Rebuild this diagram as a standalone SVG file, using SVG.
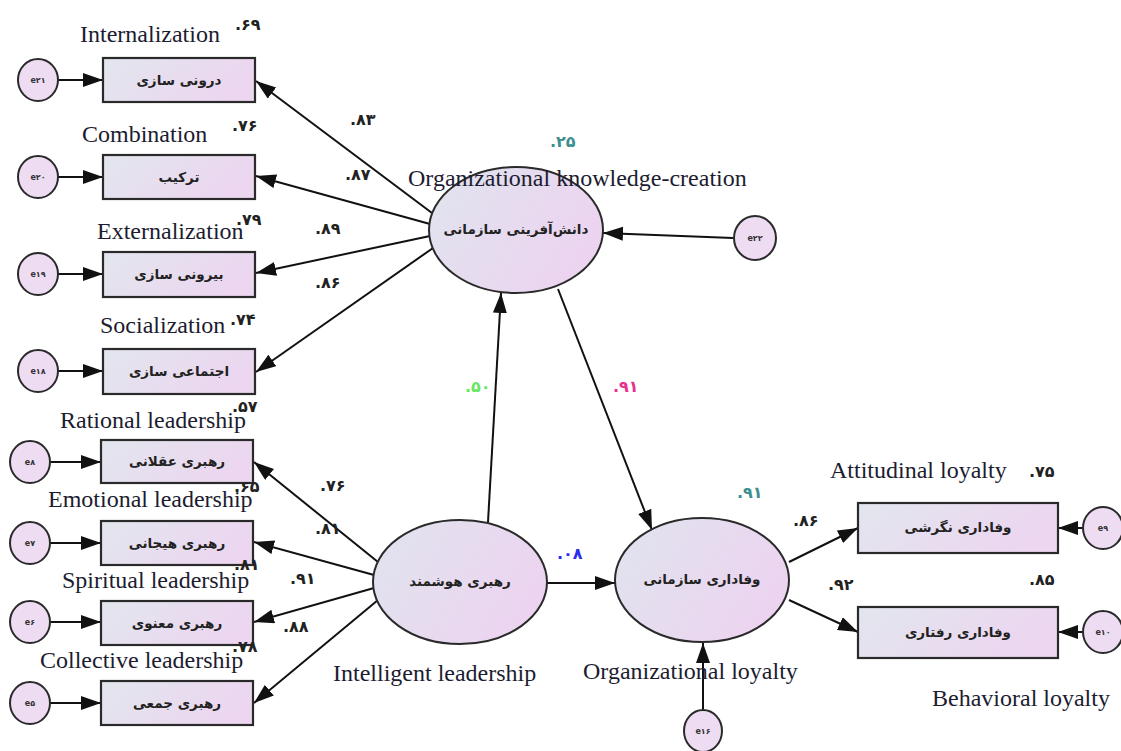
<svg xmlns="http://www.w3.org/2000/svg" width="1121" height="751" viewBox="0 0 1121 751">
<defs>
<linearGradient id="gbox" x1="0" y1="0" x2="1" y2="0.3">
<stop offset="0" stop-color="#e2e6ee"/>
<stop offset="1" stop-color="#ecd6f0"/>
</linearGradient>
<linearGradient id="gell" x1="0" y1="0" x2="1" y2="0.4">
<stop offset="0" stop-color="#e0e4ee"/>
<stop offset="1" stop-color="#ecd4f0"/>
</linearGradient>
<marker id="arr" markerUnits="userSpaceOnUse" markerWidth="22" markerHeight="16" refX="20" refY="7" orient="auto">
<path d="M0,0 L20,7 L0,14 z" fill="#111"/>
</marker>
<style>
.box{fill:url(#gbox);stroke:#2a2a2a;stroke-width:2.2}
.ell{fill:url(#gell);stroke:#2a2a2a;stroke-width:2}
.err{fill:#eddcf2;stroke:#2a2a2a;stroke-width:2}
.fa{font-family:"DejaVu Sans",sans-serif;font-weight:bold;font-size:13.5px;fill:#222;text-anchor:middle}
.et{font-family:"DejaVu Sans",sans-serif;font-weight:bold;font-size:8px;fill:#333;text-anchor:middle}
.en{font-family:"Liberation Serif",serif;font-size:24px;fill:#1c1c30}
.num{font-family:"DejaVu Sans",sans-serif;font-weight:bold;font-size:16px;fill:#222}
.cn{stroke:#111;stroke-width:2;fill:none;marker-end:url(#arr)}
</style>
</defs>
<rect width="1121" height="751" fill="#fff"/>
<g id="connectors">
<line class="cn" x1="58" y1="80" x2="103" y2="80"/>
<line class="cn" x1="58" y1="177" x2="103" y2="177"/>
<line class="cn" x1="58" y1="274" x2="103" y2="274"/>
<line class="cn" x1="58" y1="371" x2="103" y2="371"/>
<line class="cn" x1="50" y1="462" x2="101" y2="462"/>
<line class="cn" x1="50" y1="543" x2="101" y2="543"/>
<line class="cn" x1="50" y1="622" x2="101" y2="622"/>
<line class="cn" x1="50" y1="703" x2="101" y2="703"/>
<line class="cn" x1="432" y1="213" x2="256" y2="81"/>
<line class="cn" x1="430" y1="224" x2="256" y2="176"/>
<line class="cn" x1="430" y1="236" x2="256" y2="273"/>
<line class="cn" x1="433" y1="248" x2="256" y2="372"/>
<line class="cn" x1="378" y1="562" x2="254" y2="462"/>
<line class="cn" x1="374" y1="575" x2="254" y2="542"/>
<line class="cn" x1="374" y1="588" x2="254" y2="622"/>
<line class="cn" x1="378" y1="600" x2="254" y2="703"/>
<line class="cn" x1="488" y1="522" x2="501" y2="293"/>
<line class="cn" x1="558" y1="289" x2="652" y2="530"/>
<line class="cn" x1="547" y1="583" x2="615" y2="583"/>
<line class="cn" x1="733" y1="238" x2="603" y2="233"/>
<line class="cn" x1="703" y1="710" x2="703" y2="643"/>
<line class="cn" x1="789" y1="562" x2="858" y2="528"/>
<line class="cn" x1="789" y1="600" x2="858" y2="632"/>
<line class="cn" x1="1083" y1="528" x2="1058" y2="528"/>
<line class="cn" x1="1083" y1="632" x2="1058" y2="632"/>
</g>
<g id="e21"><ellipse class="err" cx="38" cy="80" rx="20" ry="21"/><text class="et" x="38" y="83">e۲۱</text></g>
<g id="e20"><ellipse class="err" cx="38" cy="177" rx="20" ry="21"/><text class="et" x="38" y="180">e۲۰</text></g>
<g id="e19"><ellipse class="err" cx="38" cy="274" rx="20" ry="21"/><text class="et" x="38" y="277">e۱۹</text></g>
<g id="e18"><ellipse class="err" cx="38" cy="371" rx="20" ry="21"/><text class="et" x="38" y="374">e۱۸</text></g>
<g id="e8"><ellipse class="err" cx="30" cy="462" rx="20" ry="21"/><text class="et" x="30" y="465">e۸</text></g>
<g id="e7"><ellipse class="err" cx="30" cy="543" rx="20" ry="21"/><text class="et" x="30" y="546">e۷</text></g>
<g id="e6"><ellipse class="err" cx="30" cy="622" rx="20" ry="21"/><text class="et" x="30" y="625">e۶</text></g>
<g id="e5"><ellipse class="err" cx="30" cy="703" rx="20" ry="21"/><text class="et" x="30" y="706">e۵</text></g>
<g id="e22"><ellipse class="err" cx="755" cy="238" rx="21" ry="22"/><text class="et" x="755" y="241">e۲۲</text></g>
<g id="e16"><ellipse class="err" cx="703" cy="731" rx="19" ry="21"/><text class="et" x="703" y="734">e۱۶</text></g>
<g id="e9"><ellipse class="err" cx="1103" cy="528" rx="20" ry="21"/><text class="et" x="1103" y="531">e۹</text></g>
<g id="e10"><ellipse class="err" cx="1103" cy="632" rx="20" ry="21"/><text class="et" x="1103" y="635">e۱۰</text></g>
<g id="internalization"><rect class="box" x="103" y="58" width="152" height="44"/><text class="fa" x="179" y="85">درونی سازی</text><text class="en" x="80" y="42">Internalization</text><text class="num" x="235" y="30">.۶۹</text></g>
<g id="combination"><rect class="box" x="103" y="155" width="152" height="44"/><text class="fa" x="179" y="182">ترکیب</text><text class="en" x="82" y="142">Combination</text><text class="num" x="232" y="131">.۷۶</text></g>
<g id="externalization"><rect class="box" x="103" y="252" width="152" height="45"/><text class="fa" x="179" y="279">بیرونی سازی</text><text class="en" x="97" y="239">Externalization</text><text class="num" x="236" y="225">.۷۹</text></g>
<g id="socialization"><rect class="box" x="103" y="349" width="152" height="45"/><text class="fa" x="179" y="376">اجتماعی سازی</text><text class="en" x="100" y="333">Socialization</text><text class="num" x="230" y="325">.۷۴</text></g>
<g id="rational"><rect class="box" x="101" y="440" width="152" height="43"/><text class="fa" x="177" y="466">رهبری عقلانی</text><text class="en" x="60" y="428">Rational leadership</text><text class="num" x="232" y="412">.۵۷</text></g>
<g id="emotional"><rect class="box" x="101" y="521" width="152" height="44"/><text class="fa" x="177" y="548">رهبری هیجانی</text><text class="en" x="48" y="507">Emotional leadership</text><text class="num" x="234" y="492">.۶۵</text></g>
<g id="spiritual"><rect class="box" x="101" y="601" width="152" height="44"/><text class="fa" x="177" y="628">رهبری معنوی</text><text class="en" x="62" y="588">Spiritual leadership</text><text class="num" x="234" y="570">.۸۱</text></g>
<g id="collective"><rect class="box" x="101" y="681" width="152" height="44"/><text class="fa" x="177" y="708">رهبری جمعی</text><text class="en" x="40" y="668">Collective leadership</text><text class="num" x="232" y="652">.۷۸</text></g>
<g id="knowledge"><ellipse class="ell" cx="516" cy="230" rx="87" ry="63"/><text class="fa" x="516" y="234">دانش‌آفرینی سازمانی</text><text class="en" x="408" y="186">Organizational knowledge-creation</text><text class="num" x="550" y="147" style="fill:#3d8f8f">.۲۵</text></g>
<g id="intelligent"><ellipse class="ell" cx="460" cy="582" rx="87" ry="62"/><text class="fa" x="460" y="586">رهبری هوشمند</text><text class="en" x="333" y="681">Intelligent leadership</text></g>
<g id="loyalty"><ellipse class="ell" cx="702" cy="580" rx="87" ry="62"/><text class="fa" x="702" y="584">وفاداری سازمانی</text><text class="en" x="583" y="679">Organizational loyalty</text><text class="num" x="737" y="498" style="fill:#3d8f8f">.۹۱</text></g>
<g id="attitudinal"><rect class="box" x="858" y="503" width="200" height="50"/><text class="fa" x="958" y="532">وفاداری نگرشی</text><text class="en" x="830" y="478">Attitudinal loyalty</text><text class="num" x="1029" y="477">.۷۵</text></g>
<g id="behavioral"><rect class="box" x="858" y="607" width="200" height="51"/><text class="fa" x="958" y="637">وفاداری رفتاری</text><text class="en" x="932" y="706">Behavioral loyalty</text><text class="num" x="1029" y="585">.۸۵</text></g>
<g id="path-labels">
<text class="num" x="350" y="125">.۸۳</text>
<text class="num" x="345" y="180">.۸۷</text>
<text class="num" x="315" y="234">.۸۹</text>
<text class="num" x="315" y="288">.۸۶</text>
<text class="num" x="320" y="491">.۷۶</text>
<text class="num" x="315" y="534">.۸۱</text>
<text class="num" x="290" y="584">.۹۱</text>
<text class="num" x="283" y="632">.۸۸</text>
<text class="num" x="465" y="392" style="fill:#66e866">.۵۰</text>
<text class="num" x="613" y="392" style="fill:#e8308c">.۹۱</text>
<text class="num" x="557" y="559" style="fill:#2a2af0">.۰۸</text>
<text class="num" x="793" y="526">.۸۶</text>
<text class="num" x="828" y="590">.۹۲</text>
</g>
</svg>
